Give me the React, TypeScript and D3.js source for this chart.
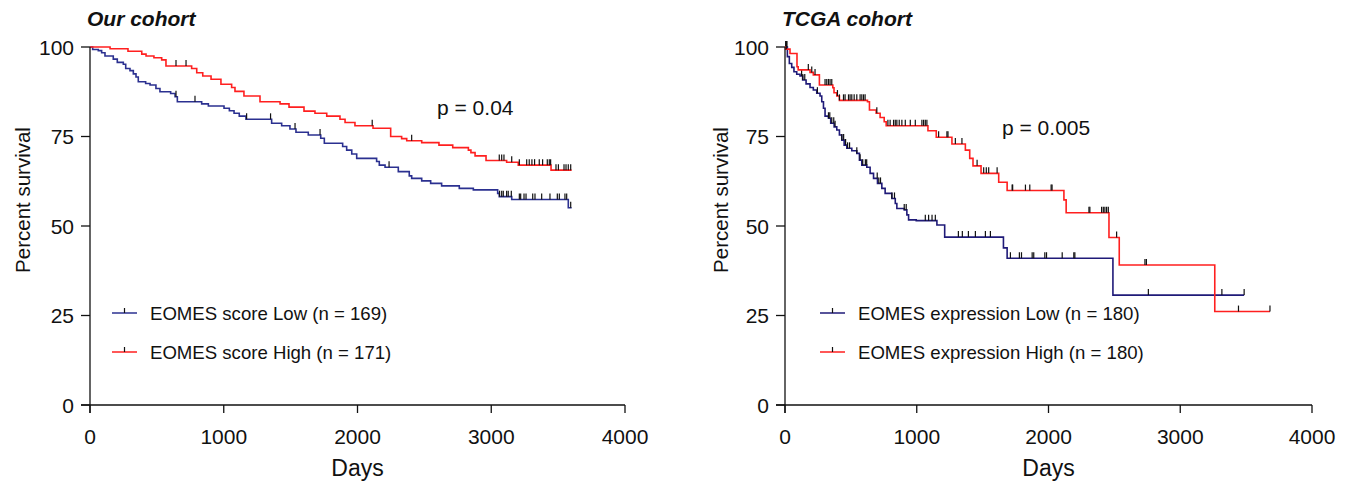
import React from "react";
import * as d3 from "d3";

type Step = [number, number];

const dayTicks = [0, 1000, 2000, 3000, 4000];
const pctTicks = [0, 25, 50, 75, 100];

// Our cohort - EOMES score Low: [day, percent after drop]
const ourLowSteps: Step[] = [
  [20, 99.3], [62, 99.0], [87, 98.4], [112, 97.5], [174, 96.6], [204, 95.7], [249, 95.2], [267, 94.0],
  [299, 93.4], [324, 92.5], [344, 91.6], [361, 90.3], [416, 89.8], [449, 89.4], [493, 88.4], [523, 87.5],
  [603, 87.0], [636, 86.1], [653, 84.7], [835, 84.1], [885, 83.5], [1002, 82.9], [1042, 82.2], [1077, 81.5],
  [1116, 80.7], [1166, 79.8], [1358, 78.7], [1433, 78.0], [1495, 77.1], [1540, 76.2], [1632, 75.4],
  [1725, 74.5], [1752, 73.1], [1889, 72.2], [1919, 71.2], [1957, 70.1], [1994, 68.9], [2143, 68.0],
  [2163, 67.0], [2206, 66.4], [2305, 65.2], [2387, 64.0], [2405, 63.3], [2480, 62.6], [2547, 61.9],
  [2629, 61.2], [2761, 60.5], [2866, 60.1], [3048, 59.1], [3060, 58.2], [3153, 57.4], [3576, 55.1],
];
const ourLowCensor = [643, 785, 1171, 1350, 1533, 1720, 2236, 3062, 3078, 3090, 3115, 3127, 3150, 3210, 3220,
  3245, 3260, 3310, 3327, 3377, 3439, 3494, 3509, 3551, 3564, 3594];
const ourLowEnd = 3601;

// Our cohort - EOMES score High
const ourHighSteps: Step[] = [
  [150, 99.5], [284, 98.8], [387, 98.0], [419, 97.5], [478, 97.0], [536, 96.4], [568, 94.7], [760, 94.0],
  [798, 92.8], [843, 91.9], [905, 91.0], [979, 89.6], [1059, 88.7], [1084, 87.6], [1151, 86.3], [1271, 84.7],
  [1421, 84.1], [1488, 83.2], [1600, 82.1], [1682, 81.5], [1770, 80.7], [1869, 79.8], [1907, 78.9],
  [1981, 78.0], [2116, 77.3], [2248, 75.0], [2330, 74.4], [2368, 73.8], [2480, 73.3], [2609, 72.6],
  [2712, 71.9], [2829, 71.2], [2848, 70.5], [2879, 69.6], [2961, 68.3], [3115, 67.8], [3202, 67.0], [3447, 65.6],
];
const ourHighCensor = [643, 718, 2110, 2405, 3060, 3078, 3095, 3153, 3210, 3265, 3284, 3304, 3324, 3359, 3384,
  3419, 3434, 3444, 3484, 3502, 3544, 3559, 3576, 3594];
const ourHighEnd = 3601;

// TCGA cohort - EOMES expression Low
const tcgaLowSteps: Step[] = [
  [18, 97.3], [33, 95.4], [51, 94.3], [68, 93.1], [89, 92.4], [114, 91.9], [134, 90.8], [160, 89.7],
  [190, 88.7], [215, 88.0], [241, 87.1], [266, 86.3], [279, 84.7], [292, 82.9], [304, 80.7], [330, 80.1],
  [347, 78.7], [373, 77.7], [393, 76.8], [413, 75.4], [431, 74.0], [449, 72.6], [469, 71.7], [507, 71.0],
  [545, 70.3], [565, 68.4], [583, 67.0], [621, 66.4], [646, 64.7], [672, 63.3], [702, 61.9], [735, 60.5],
  [760, 59.1], [811, 57.7], [837, 56.3], [849, 54.9], [905, 54.5], [925, 53.1], [938, 51.7], [996, 51.5],
  [1153, 50.3], [1212, 46.9], [1658, 43.9], [1686, 41.0], [2489, 30.7],
];
const tcgaLowCensor = [5, 10, 15, 126, 135, 150, 246, 330, 340, 355, 370, 380, 431, 445, 460, 475, 490, 545,
  570, 590, 610, 620, 700, 712, 725, 811, 831, 905, 920, 1065, 1090, 1116, 1141, 1316, 1346, 1392, 1445, 1521,
  1559, 1711, 1779, 1795, 1876, 1888, 1972, 1985, 2104, 2192, 2200, 2758, 3316, 3485];
const tcgaLowEnd = 3485;

// TCGA cohort - EOMES expression High
const tcgaHighSteps: Step[] = [
  [5, 99.4], [38, 98.2], [91, 94.5], [100, 93.6], [190, 92.9], [215, 92.2], [261, 89.4], [363, 88.6],
  [372, 87.2], [393, 86.3], [413, 85.1], [626, 84.7], [641, 82.4], [692, 81.5], [722, 80.3], [753, 79.1],
  [768, 78.0], [1085, 76.6], [1148, 74.8], [1267, 72.9], [1369, 71.2], [1402, 68.9], [1427, 66.8],
  [1488, 64.7], [1622, 62.2], [1686, 59.9], [2117, 57.3], [2134, 53.7], [2459, 46.8], [2537, 39.1], [3262, 26.1],
];
const tcgaHighCensor = [10, 177, 203, 228, 304, 317, 330, 342, 355, 398, 413, 444, 456, 482, 494, 507, 525, 545,
  570, 583, 596, 608, 697, 781, 798, 824, 837, 849, 867, 887, 913, 951, 989, 1039, 1052, 1065, 1077, 1166, 1229,
  1237, 1293, 1343, 1458, 1508, 1528, 1546, 1610, 1724, 1728, 1825, 1858, 2020, 2027, 2307, 2314, 2403, 2416,
  2428, 2441, 2454, 2517, 2732, 2743, 3442, 3681];
const tcgaHighEnd = 3681;

const FONT = "'Liberation Sans', Arial, sans-serif";
const RED = "#ff1f1f";

function levelAt(steps: Step[], d: number) {
  let v = 100;
  for (const s of steps) if (s[0] <= d) v = s[1];
  return v;
}

function Curve({ steps, censor, end, x, y, color }) {
  const pts: Step[] = [[0, 100], ...steps, [end, steps[steps.length - 1][1]]];
  const line = d3.line<Step>()
    .x((d) => x(d[0]))
    .y((d) => y(d[1]))
    .curve(d3.curveStepAfter);
  return (
    <g>
      <path d={line(pts) || ""} fill="none" stroke={color} strokeWidth={1.6} />
      {censor.map((c, i) => {
        const cx = x(c), cy = y(levelAt(steps, c));
        return <line key={i} x1={cx} x2={cx} y1={cy} y2={cy - 6} stroke="#111" strokeWidth={1.2} />;
      })}
    </g>
  );
}

function Panel({ x0, x1, title, pText, pX, pY, labelX, legendX, legend, curves }) {
  const x = d3.scaleLinear().domain([0, 4000]).range([x0, x1]);
  const y = d3.scaleLinear().domain([0, 100]).range([405, 47]);
  return (
    <g fontFamily={FONT} fill="#111">
      <text x={x0 - 3} y={26} fontSize={21} fontWeight="bold" fontStyle="italic">{title}</text>
      {curves.map((c, i) => <Curve key={i} {...c} x={x} y={y} />)}
      {/* axes */}
      <line x1={x0} x2={x0} y1={y(100)} y2={413} stroke="#111" strokeWidth={1.3} />
      <line x1={x0 - 9} x2={x1} y1={y(0)} y2={y(0)} stroke="#111" strokeWidth={1.3} />
      {pctTicks.map((t) => (
        <g key={t}>
          <line x1={x0 - 9} x2={x0} y1={y(t)} y2={y(t)} stroke="#111" strokeWidth={1.3} />
          <text x={x0 - 16} y={y(t) + 7.5} fontSize={21} textAnchor="end">{t}</text>
        </g>
      ))}
      {dayTicks.map((t) => (
        <g key={t}>
          <line x1={x(t)} x2={x(t)} y1={405} y2={413} stroke="#111" strokeWidth={1.3} />
          <text x={x(t)} y={444} fontSize={21} textAnchor="middle">{t}</text>
        </g>
      ))}
      <text x={(x0 + x1) / 2} y={476} fontSize={23} textAnchor="middle">Days</text>
      <text transform={`translate(${labelX},200) rotate(-90)`} fontSize={20.5} textAnchor="middle">Percent survival</text>
      <text x={pX} y={pY} fontSize={21}>{pText}</text>
      {legend.map((l, i) => {
        const ly = 313 + i * 39;
        return (
          <g key={i}>
            <line x1={legendX} x2={legendX + 25} y1={ly} y2={ly} stroke={l.color} strokeWidth={1.5} />
            <line x1={legendX + 12.5} x2={legendX + 12.5} y1={ly} y2={ly - 5} stroke="#111" strokeWidth={1.2} />
            <text x={legendX + 38} y={ly + 6.5} fontSize={18.6}>{l.text}</text>
          </g>
        );
      })}
    </g>
  );
}

export default function App() {
  return (
    <svg width={1352} height={481} style={{ position: "absolute", left: 0, top: 0, background: "#fff" }}>
      <Panel
        x0={90} x1={625} title="Our cohort" pText="p = 0.04" pX={437} pY={115} labelX={30} legendX={112}
        legend={[
          { color: "#2b3090", text: "EOMES score Low (n = 169)" },
          { color: RED, text: "EOMES score High (n = 171)" },
        ]}
        curves={[
          { steps: ourLowSteps, censor: ourLowCensor, end: ourLowEnd, color: "#2b3090" },
          { steps: ourHighSteps, censor: ourHighCensor, end: ourHighEnd, color: RED },
        ]}
      />
      <Panel
        x0={785} x1={1312} title="TCGA cohort" pText="p = 0.005" pX={1002} pY={135} labelX={728} legendX={820}
        legend={[
          { color: "#1f1a78", text: "EOMES expression Low (n = 180)" },
          { color: RED, text: "EOMES expression High (n = 180)" },
        ]}
        curves={[
          { steps: tcgaLowSteps, censor: tcgaLowCensor, end: tcgaLowEnd, color: "#1f1a78" },
          { steps: tcgaHighSteps, censor: tcgaHighCensor, end: tcgaHighEnd, color: RED },
        ]}
      />
    </svg>
  );
}
